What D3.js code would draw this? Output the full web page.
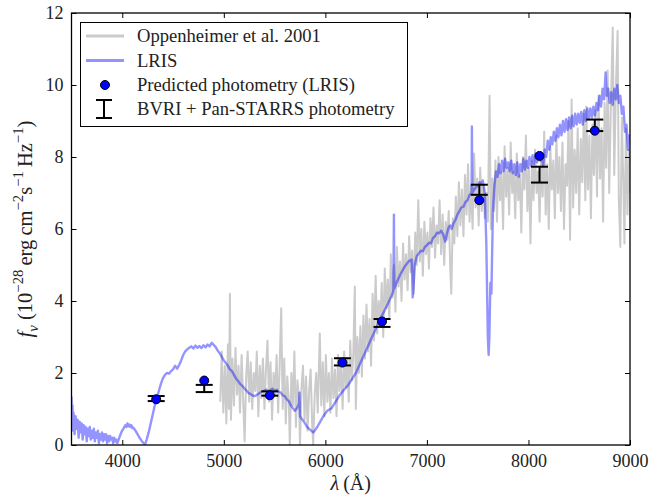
<!DOCTYPE html>
<html>
<head>
<meta charset="utf-8">
<script src="https://cdn.jsdelivr.net/npm/d3@7/dist/d3.min.js"></script>
<style>
  html, body { margin: 0; padding: 0; background: #fff; }
  svg { display: block; }
  text { font-family: "Liberation Serif", "Times New Roman", serif; fill: #222; }
</style>
</head>
<body>
<svg id="chart" width="665" height="497"></svg>
<script>
// Axis ticks
const xTicks = [4000, 5000, 6000, 7000, 8000, 9000];
const yTicks = [0, 2, 4, 6, 8, 10, 12];

// Oppenheimer et al. (2001) spectrum: [wavelength (Å), f_nu]
const oppenheimer = [
  [4965,1.2],[4980,2.6],[4995,0.9],[5010,2.2],[5025,0.6],[5040,2.8],[5050,1.0],[5060,4.2],[5070,0.7],[5085,2.4],
  [5100,1.1],[5115,2.7],[5130,1.4],[5145,2.2],[5160,0.9],[5175,2.5],[5190,1.3],[5205,0.1],[5220,1.9],[5235,2.6],
  [5250,1.2],[5265,2.3],[5280,1.0],[5295,2.0],[5310,1.5],[5325,2.6],[5340,0.8],[5355,2.2],[5370,1.3],[5385,2.4],
  [5400,1.0],[5415,2.1],[5430,2.9],[5445,1.2],[5460,2.3],[5475,0.7],[5490,2.0],[5505,1.4],[5520,2.5],[5535,0.9],
  [5550,2.2],[5565,3.8],[5580,1.0],[5595,2.4],[5610,0.6],[5625,1.9],[5640,1.2],[5650,0.0],[5665,2.0],[5680,1.1],
  [5695,2.6],[5710,0.5],[5725,1.8],[5740,1.3],[5750,0.0],[5765,1.6],[5780,2.2],[5795,0.7],[5810,1.9],[5825,0.4],
  [5840,1.5],[5855,2.1],[5870,0.6],[5880,0.0],[5895,1.4],[5910,2.0],[5925,0.9],[5945,3.1],[5960,1.1],[5975,2.3],
  [5990,0.8],[6005,2.5],[6020,1.2],[6035,2.0],[6050,0.9],[6065,2.4],[6080,1.3],[6095,2.1],[6110,0.8],[6125,2.5],
  [6140,1.5],[6155,2.2],[6170,1.0],[6185,2.6],[6200,1.6],[6215,2.4],[6230,1.2],[6245,2.9],[6260,1.8],[6275,2.5],
  [6290,4.4],[6300,1.0],[6315,3.0],[6330,2.0],[6345,3.3],[6360,1.9],[6375,3.6],[6390,2.4],[6405,3.9],[6420,2.6],
  [6435,3.5],[6450,2.2],[6465,4.2],[6480,2.9],[6495,4.7],[6510,3.1],[6525,4.0],[6540,3.3],[6555,4.5],[6570,3.0],
  [6585,4.9],[6600,3.8],[6615,4.6],[6630,3.5],[6645,5.3],[6660,4.1],[6675,5.0],[6690,3.7],[6705,5.5],[6720,4.4],
  [6735,5.1],[6750,4.0],[6765,5.6],[6780,4.6],[6795,5.3],[6810,4.3],[6825,5.8],[6840,4.8],[6855,5.4],[6870,4.2],
  [6885,5.9],[6900,5.0],[6915,6.8],[6930,5.1],[6945,6.0],[6960,4.7],[6975,6.2],[6990,5.3],[7005,5.9],[7020,4.9],
  [7035,6.3],[7050,5.5],[7065,6.6],[7080,5.2],[7095,6.1],[7110,5.6],[7125,6.8],[7140,5.3],[7155,6.4],[7170,5.0],
  [7185,6.2],[7200,5.7],[7215,6.5],[7230,4.9],[7240,4.2],[7255,6.3],[7270,5.6],[7285,6.9],[7300,5.8],[7315,7.3],
  [7330,6.1],[7345,7.1],[7360,5.8],[7375,7.5],[7390,6.4],[7405,7.8],[7420,6.2],[7435,7.2],[7450,6.0],[7465,8.1],
  [7480,6.6],[7495,7.4],[7510,6.1],[7525,7.7],[7540,6.5],[7555,7.2],[7570,6.3],[7585,7.0],[7600,6.2],[7617,9.7],
  [7630,6.0],[7645,7.4],[7660,6.5],[7675,7.9],[7690,6.2],[7705,8.0],[7720,6.8],[7735,7.6],[7750,6.0],[7765,8.3],
  [7780,6.9],[7795,7.7],[7810,6.4],[7825,8.4],[7840,7.0],[7855,7.6],[7870,6.3],[7885,8.1],[7900,6.8],[7915,7.5],
  [7930,5.9],[7945,8.0],[7960,7.1],[7975,8.6],[7990,6.5],[8005,7.7],[8020,5.6],[8035,7.9],[8050,6.8],[8065,8.2],
  [8080,7.0],[8095,7.6],[8110,6.2],[8125,8.0],[8140,6.9],[8155,8.7],[8170,6.4],[8185,7.8],[8200,6.0],[8215,8.3],
  [8230,7.1],[8245,7.9],[8260,6.3],[8275,8.6],[8290,7.0],[8305,8.0],[8320,6.5],[8335,8.4],[8350,6.0],[8365,7.8],
  [8380,7.2],[8395,9.0],[8410,5.7],[8425,9.6],[8440,6.6],[8455,8.2],[8470,7.0],[8485,8.8],[8500,6.4],[8515,8.5],
  [8530,7.3],[8545,9.2],[8560,6.8],[8570,9.4],[8585,7.1],[8600,8.6],[8615,6.3],[8630,8.9],[8645,7.5],[8660,9.3],
  [8675,6.9],[8690,9.7],[8705,7.4],[8720,8.8],[8735,6.2],[8750,9.5],[8765,7.7],[8780,10.4],[8795,7.0],[8810,9.2],
  [8830,11.6],[8845,7.5],[8860,9.8],[8878,11.5],[8890,6.8],[8905,5.5],[8920,9.1],[8935,7.2],[8945,5.6],[8960,8.8],
  [8975,6.4],[8990,8.2],[9000,7.0]
];

// LRIS spectrum: [wavelength (Å), f_nu]
const lris = [
  [3500,1.35],[3505,0.6],[3510,1.1],[3515,0.4],[3520,0.9],[3530,0.3],[3540,0.8],[3550,0.45],[3560,0.7],[3570,0.2],
  [3580,0.65],[3590,0.35],[3600,0.6],[3610,0.15],[3620,0.55],[3630,0.3],[3640,0.5],[3650,0.1],[3660,0.45],[3670,0.25],
  [3680,0.5],[3690,0.15],[3700,0.4],[3710,0.2],[3720,0.45],[3730,0.1],[3740,0.35],[3750,0.2],[3760,0.4],[3770,0.05],
  [3780,0.3],[3790,0.15],[3800,0.35],[3810,0.1],[3820,0.3],[3830,0.15],[3840,0.3],[3850,0.05],[3860,0.25],[3870,0.1],
  [3880,0.25],[3890,0.15],[3900,0.2],[3910,0.05],[3920,0.2],[3930,0.1],[3940,0.15],[3950,0.05],[3960,0.12],[3970,0.2],
  [3990,0.35],[4010,0.45],[4020,0.5],[4030,0.55],[4040,0.5],[4050,0.6],[4060,0.52],[4070,0.57],[4080,0.5],[4090,0.55],
  [4100,0.47],[4110,0.48],[4130,0.4],[4150,0.3],[4170,0.2],[4190,0.12],[4210,0.05],[4225,0.02],[4240,0.15],[4260,0.35],
  [4280,0.6],[4300,0.85],[4320,1.1],[4340,1.3],[4360,1.5],[4380,1.7],[4400,1.85],[4420,1.95],[4440,2.0],[4460,1.98],
  [4480,2.05],[4500,2.1],[4520,2.2],[4540,2.12],[4560,2.22],[4580,2.35],[4600,2.5],[4620,2.6],[4640,2.66],[4660,2.7],
  [4680,2.74],[4700,2.68],[4720,2.76],[4740,2.7],[4760,2.75],[4780,2.69],[4800,2.77],[4820,2.71],[4840,2.79],[4860,2.74],
  [4880,2.84],[4900,2.78],[4920,2.72],[4940,2.62],[4960,2.55],[4980,2.45],[5000,2.35],[5020,2.28],[5040,2.2],[5060,2.1],
  [5080,2.05],[5100,1.95],[5120,1.85],[5140,1.78],[5160,1.7],[5180,1.65],[5200,1.58],[5220,1.52],[5240,1.45],[5260,1.42],
  [5280,1.38],[5300,1.36],[5320,1.38],[5340,1.42],[5360,1.46],[5380,1.49],[5400,1.51],[5420,1.54],[5440,1.49],[5460,1.53],
  [5480,1.56],[5500,1.49],[5520,1.54],[5540,1.47],[5560,1.46],[5580,1.38],[5600,1.36],[5620,1.27],[5640,1.22],[5660,1.1],
  [5680,1.02],[5700,0.95],[5720,1.02],[5740,1.15],[5745,1.45],[5750,0.8],[5760,0.75],[5780,0.68],[5800,0.6],[5820,0.5],
  [5840,0.45],[5860,0.4],[5880,0.35],[5900,0.42],[5920,0.5],[5940,0.6],[5960,0.7],[5980,0.8],[6000,0.88],[6020,0.95],
  [6060,1.02],[6100,1.2],[6140,1.38],[6180,1.52],[6220,1.65],[6260,1.82],[6300,2.0],[6340,2.25],[6380,2.5],[6420,2.75],
  [6460,3.0],[6500,3.25],[6540,3.5],[6580,3.72],[6620,3.95],[6660,4.2],[6670,4.3],[6675,6.4],[6680,4.35],[6700,4.5],
  [6740,4.75],[6780,4.95],[6820,5.1],[6850,5.15],[6860,4.1],[6870,4.5],[6880,5.0],[6900,5.25],[6920,5.32],[6940,5.4],
  [6960,5.38],[6980,5.5],[7000,5.55],[7020,5.62],[7040,5.6],[7060,5.75],[7080,5.8],[7100,5.9],[7120,5.88],[7140,5.95],
  [7160,5.85],[7180,5.65],[7200,5.9],[7215,6.05],[7230,6.1],[7245,6.0],[7260,6.15],[7280,6.25],[7300,6.4],[7320,6.5],
  [7340,6.6],[7360,6.62],[7380,6.75],[7400,6.8],[7420,6.95],[7440,7.0],[7443,8.85],[7447,7.0],[7465,7.1],[7480,7.15],
  [7500,7.2],[7520,7.3],[7535,7.25],[7550,7.35],[7570,7.0],[7585,5.6],[7600,3.0],[7608,2.5],[7615,3.0],[7625,4.5],
  [7635,4.2],[7650,6.5],[7665,7.2],[7680,7.6],[7695,7.45],[7710,7.8],[7725,7.55],[7740,7.9],[7755,7.6],[7770,7.95],
  [7785,7.7],[7800,7.85],[7815,7.6],[7830,7.9],[7845,7.55],[7860,7.8],[7875,7.5],[7890,7.85],[7905,7.45],[7920,7.8],
  [7935,7.6],[7950,7.95],[7965,7.65],[7980,7.9],[7995,7.7],[8010,8.0],[8025,7.75],[8040,8.05],[8055,7.8],[8070,8.1],
  [8085,7.85],[8100,8.1],[8115,7.9],[8130,8.0],[8145,7.75],[8160,8.2],[8175,8.0],[8190,8.45],[8205,8.2],[8220,8.55],
  [8235,8.35],[8250,8.7],[8265,8.45],[8280,8.8],[8295,8.55],[8310,8.9],[8325,8.6],[8340,9.0],[8355,8.7],[8370,9.05],
  [8385,8.75],[8400,9.1],[8415,8.8],[8430,9.15],[8445,8.85],[8460,9.2],[8475,8.9],[8490,9.2],[8505,8.95],[8520,9.25],
  [8535,8.9],[8550,9.3],[8565,9.0],[8580,9.35],[8595,9.05],[8610,9.35],[8625,9.1],[8640,9.4],[8655,9.15],[8670,9.5],
  [8685,9.3],[8700,9.7],[8715,9.4],[8730,9.9],[8745,9.6],[8760,10.35],[8770,9.7],[8785,9.9],[8800,9.5],[8815,9.8],
  [8830,9.45],[8845,9.9],[8860,9.6],[8875,10.0],[8890,9.5],[8905,9.7],[8920,9.2],[8935,9.4],[8950,8.7],[8965,8.9],
  [8980,8.2],[8990,8.6],[9000,8.5]
];

// Synthetic photometry from the LRIS spectrum
const predictedWave = [4334, 4807, 5453, 6168, 6558, 7516, 8109, 8653];
const predictedFlux = [1.27, 1.79, 1.38, 2.29, 3.43, 6.80, 8.03, 8.73];

// BVRI + Pan-STARRS photometry with 1-sigma errors
const photWave = [4334, 4807, 5453, 6168, 6558, 7516, 8109, 8653];
const photFlux = [1.29, 1.57, 1.43, 2.31, 3.39, 7.09, 7.51, 8.88];
const photErr  = [0.07, 0.10, 0.06, 0.10, 0.11, 0.14, 0.22, 0.16];

const svg = d3.select("#chart");
const L = 71.5, R = 630, T = 13, B = 445;

const x = d3.scaleLinear().domain([3500, 9000]).range([L, R]);
const y = d3.scaleLinear().domain([0, 12]).range([B, T]);

svg.append("defs").append("clipPath").attr("id", "plotClip")
  .append("rect").attr("x", L).attr("y", T).attr("width", R - L).attr("height", B - T);

const plot = svg.append("g").attr("clip-path", "url(#plotClip)");
const line = d3.line().x(d => x(d[0])).y(d => y(d[1]));

plot.append("path").datum(oppenheimer)
  .attr("d", line).attr("fill", "none")
  .attr("stroke", "#cbcbcb").attr("stroke-width", 2).attr("stroke-linejoin", "round");

plot.append("path").datum(lris)
  .attr("d", line).attr("fill", "none")
  .attr("stroke", "#0000ff").attr("stroke-opacity", 0.42)
  .attr("stroke-width", 2.4).attr("stroke-linejoin", "round");

// Error bars
const eb = svg.append("g").attr("stroke", "#000").attr("stroke-width", 2);
photWave.forEach((w, i) => {
  const cx = x(w), lo = y(photFlux[i] - photErr[i]), hi = y(photFlux[i] + photErr[i]);
  eb.append("line").attr("x1", cx).attr("x2", cx).attr("y1", lo).attr("y2", hi);
  eb.append("line").attr("x1", cx - 8.5).attr("x2", cx + 8.5).attr("y1", lo).attr("y2", lo);
  eb.append("line").attr("x1", cx - 8.5).attr("x2", cx + 8.5).attr("y1", hi).attr("y2", hi);
});

// Predicted photometry points
svg.append("g").selectAll("circle").data(predictedWave).join("circle")
  .attr("cx", d => x(d)).attr("cy", (d, i) => y(predictedFlux[i])).attr("r", 4.5)
  .attr("fill", "#0000ff").attr("stroke", "#000").attr("stroke-width", 1);

// Axes with inward ticks on all four sides
const tick = 5;
const fmt = d3.format("d");
svg.append("g").attr("transform", `translate(0,${B})`)
  .call(d3.axisBottom(x).tickValues(xTicks).tickFormat(fmt).tickSizeInner(-tick).tickSizeOuter(0).tickPadding(9));
svg.append("g").attr("transform", `translate(0,${T})`)
  .call(d3.axisTop(x).tickValues(xTicks).tickFormat("").tickSizeInner(-tick).tickSizeOuter(0));
svg.append("g").attr("transform", `translate(${L},0)`)
  .call(d3.axisLeft(y).tickValues(yTicks).tickFormat(fmt).tickSizeInner(-tick).tickSizeOuter(0).tickPadding(8));
svg.append("g").attr("transform", `translate(${R},0)`)
  .call(d3.axisRight(y).tickValues(yTicks).tickFormat("").tickSizeInner(-tick).tickSizeOuter(0));

svg.selectAll(".domain").remove();
svg.selectAll(".tick line").attr("stroke", "#000").attr("stroke-width", 1);
svg.selectAll(".tick text").attr("font-family", "Liberation Serif, serif")
  .attr("font-size", 18).attr("fill", "#222");

svg.append("rect").attr("x", L).attr("y", T).attr("width", R - L).attr("height", B - T)
  .attr("fill", "none").attr("stroke", "#000").attr("stroke-width", 1.3);

// Rich text helper for math-style labels
function richText(sel, parts, size) {
  let shift = 0;
  parts.forEach(p => {
    const target = p.sup ? -0.42 * size : p.sub ? 0.28 * size : 0;
    const ts = sel.append("tspan").text(p.t).attr("dy", target - shift);
    if (p.sup || p.sub) ts.attr("font-size", size * 0.72);
    if (p.it) ts.attr("font-style", "italic");
    shift = target;
  });
}

const ylab = svg.append("text")
  .attr("transform", `translate(32,${(T + B) / 2}) rotate(-90)`)
  .attr("text-anchor", "middle").attr("font-size", 20.5);
richText(ylab, [
  {t: "f", it: true}, {t: "ν", sub: true, it: true}, {t: " (10"}, {t: "−28", sup: true},
  {t: "\u2009erg\u2009cm"}, {t: "−2", sup: true}, {t: "s"}, {t: "−1", sup: true},
  {t: "\u2009Hz"}, {t: "−1", sup: true}, {t: ")"}
], 20.5);

const xlab = svg.append("text").attr("x", (L + R) / 2).attr("y", 490)
  .attr("text-anchor", "middle").attr("font-size", 20);
richText(xlab, [{t: "λ", it: true}, {t: "\u2009(Å)"}], 20);

// Legend
const lg = svg.append("g");
lg.append("rect").attr("x", 80.5).attr("y", 22.5).attr("width", 327).attr("height", 104)
  .attr("fill", "#fff").attr("stroke", "#000").attr("stroke-width", 1);
const rows = [36, 60.5, 85, 109];
lg.append("line").attr("x1", 86).attr("x2", 124).attr("y1", rows[0]).attr("y2", rows[0])
  .attr("stroke", "#cbcbcb").attr("stroke-width", 3);
lg.append("line").attr("x1", 86).attr("x2", 124).attr("y1", rows[1]).attr("y2", rows[1])
  .attr("stroke", "#0000ff").attr("stroke-opacity", 0.42).attr("stroke-width", 3);
lg.append("circle").attr("cx", 105).attr("cy", rows[2]).attr("r", 4.5)
  .attr("fill", "#0000ff").attr("stroke", "#000").attr("stroke-width", 1);
const le = lg.append("g").attr("stroke", "#000").attr("stroke-width", 2);
le.append("line").attr("x1", 104).attr("x2", 104).attr("y1", rows[3] - 9).attr("y2", rows[3] + 9);
le.append("line").attr("x1", 96).attr("x2", 112).attr("y1", rows[3] - 9).attr("y2", rows[3] - 9);
le.append("line").attr("x1", 96).attr("x2", 112).attr("y1", rows[3] + 9).attr("y2", rows[3] + 9);

const labels = ["Oppenheimer et al. 2001", "LRIS", "Predicted photometry (LRIS)", "BVRI + Pan-STARRS photometry"];
labels.forEach((s, i) => {
  lg.append("text").attr("x", 137).attr("y", rows[i]).attr("dy", "0.33em")
    .attr("font-size", 18.6).text(s);
});
</script>
</body>
</html>
